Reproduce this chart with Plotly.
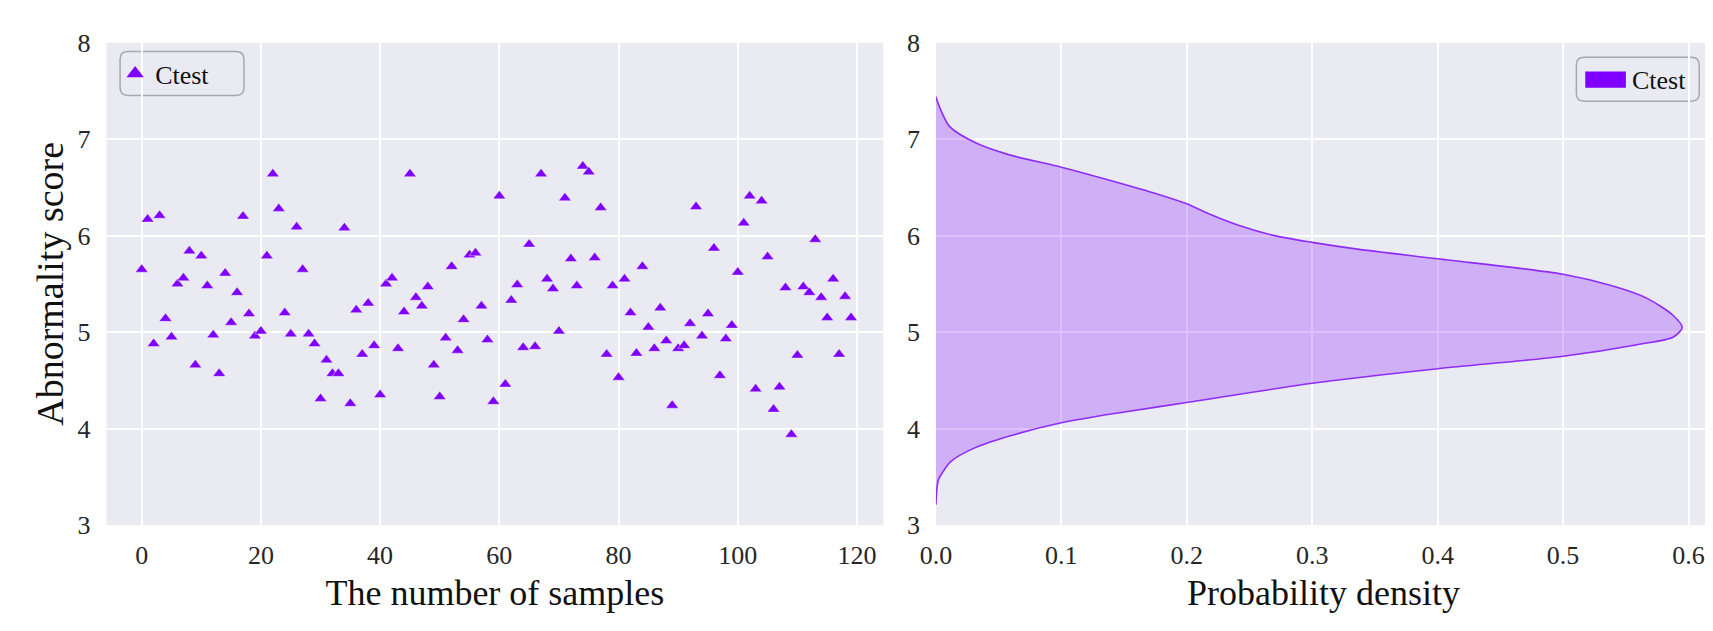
import plotly.graph_objects as go

# ---- data ----
sample_idx = list(range(120))
scores = [5.65, 6.17, 4.88, 6.21, 5.14, 4.95, 5.50, 5.56, 5.84, 4.66,
          5.79, 5.48, 4.97, 4.57, 5.61, 5.10, 5.41, 6.20, 5.19, 4.96,
          5.01, 5.79, 6.64, 6.28, 5.20, 4.98, 6.09, 5.65, 4.98, 4.88,
          4.31, 4.71, 4.57, 4.57, 6.08, 4.26, 5.23, 4.77, 5.30, 4.86,
          4.35, 5.50, 5.56, 4.83, 5.21, 6.64, 5.36, 5.27, 5.47, 4.66,
          4.33, 4.94, 5.68, 4.81, 5.13, 5.80, 5.82, 5.27, 4.92, 4.28,
          6.41, 4.46, 5.33, 5.49, 4.84, 5.91, 4.85, 6.64, 5.55, 5.45,
          5.01, 6.39, 5.76, 5.48, 6.72, 6.66, 5.77, 6.29, 4.77, 5.48,
          4.53, 5.55, 5.20, 4.78, 5.68, 5.05, 4.83, 5.25, 4.91, 4.24,
          4.83, 4.86, 5.09, 6.30, 4.96, 5.19, 5.87, 4.55, 4.93, 5.07,
          5.62, 6.13, 6.41, 4.41, 6.36, 5.78, 4.20, 4.43, 5.46, 3.94,
          4.76, 5.47, 5.41, 5.96, 5.36, 5.15, 5.55, 4.77, 5.37, 5.15]

density_y = [3.21, 3.40, 3.47, 3.54, 3.66, 3.80, 3.92, 4.06, 4.17, 4.27,
             4.47, 4.62, 4.75, 4.87, 4.95, 5.05, 5.17, 5.35, 5.48, 5.60,
             5.76, 5.86, 5.93, 6.00, 6.10, 6.23, 6.33, 6.43, 6.58, 6.71,
             6.84, 6.96, 7.13, 7.33, 7.44]
density_x = [0.000, 0.001, 0.002, 0.005, 0.012, 0.031, 0.058, 0.100, 0.149, 0.200,
             0.300, 0.400, 0.500, 0.559, 0.588, 0.595, 0.588, 0.567, 0.539, 0.500,
             0.400, 0.336, 0.300, 0.270, 0.243, 0.217, 0.200, 0.177, 0.137, 0.100,
             0.058, 0.032, 0.011, 0.003, 0.000]

series_name = "Ctest"
x_ticks_left = [0, 20, 40, 60, 80, 100, 120]
x_ticks_right = [0.0, 0.1, 0.2, 0.3, 0.4, 0.5, 0.6]
y_ticks = [3, 4, 5, 6, 7, 8]

# ---- styling ----
W, H = 1713, 631
FONT = "Liberation Serif"
VIOLET = "#7F00FF"
BG = "#EAEAF2"
TICK_COLOR = "#262626"

def px(v): return v / W
def py(v): return 1 - v / H

fig = go.Figure()

fig.add_trace(go.Scatter(
    x=sample_idx, y=scores, mode="markers", name=series_name,
    marker=dict(symbol="triangle-up", size=11, color=VIOLET,
                line=dict(color="rgba(255,255,255,0.7)", width=0.6)),
    xaxis="x", yaxis="y", showlegend=False))

# legend entry for the scatter panel (bigger marker, as in the reference legend)
fig.add_trace(go.Scatter(
    x=[None], y=[None], mode="markers", name=series_name,
    marker=dict(symbol="triangle-up", size=15, color=VIOLET),
    xaxis="x", yaxis="y", legend="legend"))

fig.add_trace(go.Scatter(
    x=density_x, y=density_y, mode="lines", name=series_name,
    line=dict(color="#8E2DF7", width=1.6, shape="spline", smoothing=0.8),
    fill="tozerox", fillcolor="rgba(127,0,255,0.25)",
    xaxis="x2", yaxis="y2", showlegend=False))

ydom = [py(527.3), py(21.7)]

fig.update_layout(
    width=W, height=H, margin=dict(l=0, r=0, t=0, b=0),
    paper_bgcolor="white", plot_bgcolor=BG,
    font=dict(family=FONT, color="#111111", size=26),
    xaxis=dict(domain=[px(83.3), px(867.3)], range=[-5.9, 124.4],
               tickvals=x_ticks_left, ticklabelstandoff=12,
               title=dict(text="The number of samples",
                          font=dict(family=FONT, size=36, color="#111111"), standoff=10),
               anchor="y"),
    yaxis=dict(domain=ydom, range=[3, 8], tickvals=y_ticks, ticklabelstandoff=15,
               title=dict(text="Abnormality score",
                          font=dict(family=FONT, size=38, color="#111111"), standoff=2),
               anchor="x"),
    xaxis2=dict(domain=[px(920.5), px(1703)], range=[0, 0.618],
                tickvals=x_ticks_right, tickformat=".1f", ticklabelstandoff=12,
                title=dict(text="Probability density",
                           font=dict(family=FONT, size=36, color="#111111"), standoff=10),
                anchor="y2"),
    yaxis2=dict(domain=ydom, range=[3, 8], tickvals=y_ticks, ticklabelstandoff=15,
                anchor="x2"),
    legend=dict(x=px(92), y=py(54), xanchor="left", yanchor="middle",
                bgcolor="rgba(0,0,0,0)", borderwidth=0,
                font=dict(family=FONT, size=26, color="#111111")),
)

fig.update_xaxes(showgrid=True, gridcolor="white", gridwidth=1.5, zeroline=False,
                 showline=False, ticks="",
                 tickfont=dict(family=FONT, size=26, color=TICK_COLOR))
fig.update_yaxes(showgrid=True, gridcolor="white", gridwidth=1.5, zeroline=False,
                 showline=False, ticks="",
                 tickfont=dict(family=FONT, size=26, color=TICK_COLOR))

def rounded_box(x0, y0, x1, y1, r=8):
    X0, X1 = px(x0), px(x1)
    Y0, Y1 = py(y0), py(y1)
    rx, ry = r / W, r / H
    return (f"M {X0+rx},{Y0} L {X1-rx},{Y0} Q {X1},{Y0} {X1},{Y0-ry} "
            f"L {X1},{Y1+ry} Q {X1},{Y1} {X1-rx},{Y1} L {X0+rx},{Y1} "
            f"Q {X0},{Y1} {X0},{Y1+ry} L {X0},{Y0-ry} Q {X0},{Y0} {X0+rx},{Y0} Z")

for box in [(97, 31, 222, 77), (1567, 37, 1691, 83)]:
    fig.add_shape(type="path", path=rounded_box(*box), xref="paper", yref="paper",
                  line=dict(color="#A8A8A8", width=1.5),
                  fillcolor="rgba(234,234,242,0.8)", layer="below")

# legend for the density panel: colour patch + label
fig.add_shape(type="rect", xref="paper", yref="paper",
              x0=px(1576), x1=px(1617), y0=py(69), y1=py(52),
              fillcolor=VIOLET, line=dict(width=0))
fig.add_annotation(text=series_name, xref="paper", yref="paper",
                   x=px(1621), y=py(61), xanchor="left", yanchor="middle",
                   showarrow=False, font=dict(family=FONT, size=26, color="#111111"))

fig.write_html("out.html")
